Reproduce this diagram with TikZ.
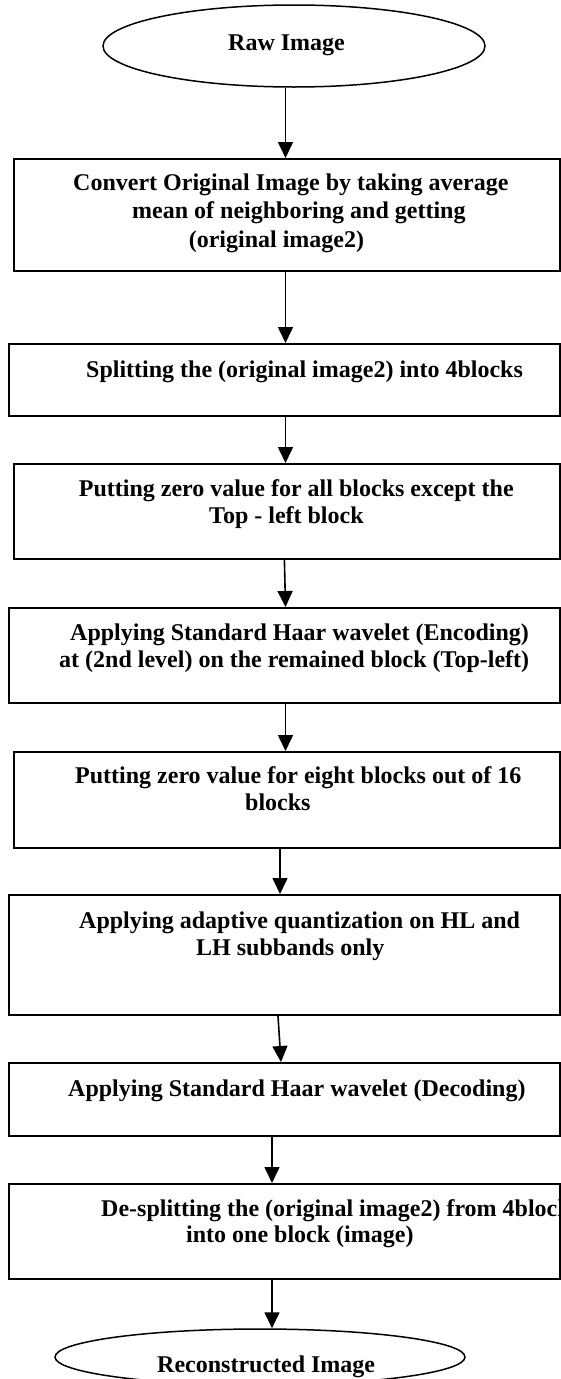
\documentclass[tikz,border=0pt]{standalone}
\usepackage{fontspec}
\setmainfont{Liberation Serif}
\usetikzlibrary{shapes.geometric,arrows.meta}
\begin{document}
\begin{tikzpicture}[x=1pt,y=-1pt,
  stepbox/.style={draw,line width=2pt,rectangle,inner sep=0pt,anchor=north west},
  endcap/.style={draw,ellipse,line width=1.5pt,inner sep=0pt},
  lbl/.style={anchor=base west,inner sep=0pt,font=\fontsize{24}{28}\selectfont\bfseries},
  flow/.style={line width=1.6pt,-{Triangle[width=15pt,length=16pt]}}]
\useasboundingbox (0,0) rectangle (561,1379);

% start and end ellipses
\node[endcap,minimum width=382pt,minimum height=82pt] (e1) at (294,46) {};
\node[endcap,minimum width=410pt,minimum height=56pt] (e2) at (260,1357) {};

% process boxes
\node[stepbox,minimum width=546.5pt,minimum height=112pt] (b1) at (12.5,158) {};
\node[stepbox,minimum width=551pt,minimum height=72pt]    (b2) at (8,343) {};
\node[stepbox,minimum width=546.5pt,minimum height=95pt]  (b3) at (12.5,463) {};
\node[stepbox,minimum width=551pt,minimum height=95pt]    (b4) at (8,607) {};
\node[stepbox,minimum width=546pt,minimum height=96pt]    (b5) at (13,751) {};
\node[stepbox,minimum width=551pt,minimum height=120pt]   (b6) at (8,894) {};
\node[stepbox,minimum width=551pt,minimum height=73pt]    (b7) at (8,1062) {};
\node[stepbox,minimum width=551pt,minimum height=95pt]    (b8) at (8,1183) {};

% labels
\node[lbl] (t0) at (228,50) {Raw Image};
\node[lbl] (t1a) at (73,190) {Convert Original Image by taking average};
\node[lbl] (t1b) at (132,218) {mean of neighboring and getting};
\node[lbl] (t1c) at (188.6,247) {(original image2)};
\node[lbl] (t2a) at (86,377) {Splitting the (original image2) into 4blocks};
\node[lbl] (t3a) at (78.7,496) {Putting zero value for all blocks except the};
\node[lbl] (t3b) at (209,523) {Top - left block};
\node[lbl] (t4a) at (70,640) {Applying Standard Haar wavelet (Encoding)};
\node[lbl] (t4b) at (59,667) {at (2nd level) on the remained block (Top-left)};
\node[lbl] (t5a) at (75,783) {Putting zero value for eight blocks out of 16};
\node[lbl] (t5b) at (245,810) {blocks};
\node[lbl] (t6a) at (79,928) {Applying adaptive quantization on HL and};
\node[lbl] (t6b) at (196,955) {LH subbands only};
\node[lbl] (t7a) at (68,1096) {Applying Standard Haar wavelet (Decoding)};
\begin{scope}
  \clip (b8.north west) rectangle (b8.south east);
  \node[lbl] (t8a) at (101,1216) {De-splitting the (original image2) from 4blocks};
\end{scope}
\node[lbl] (t8b) at (186,1242) {into one block (image)};
\node[lbl] (t9) at (157,1372) {Reconstructed Image};

% connector columns
\coordinate (ca) at (285.5,0);
\coordinate (cb) at (284.4,0);
\coordinate (cc) at (280,0);
\coordinate (cd) at (278,0);
\coordinate (ce) at (281,0);
\coordinate (cf) at (272,0);

% connectors
\draw[flow] (e1.south -| ca) -- (b1.north -| ca);
\draw[flow] (b1.south -| ca) -- (b2.north -| ca);
\draw[flow] (b2.south -| ca) -- (b3.north -| ca);
\draw[flow] (b3.south -| cb) -- (b4.north -| ca);
\draw[flow] (b4.south -| ca) -- (b5.north -| ca);
\draw[flow] (b5.south -| cc) -- (b6.north -| cc);
\draw[flow] (b6.south -| cd) -- (b7.north -| ce);
\draw[flow] (b7.south -| cf) -- (b8.north -| cf);
\draw[flow] (b8.south -| cf) -- (e2.north -| cf);
\end{tikzpicture}
\end{document}
